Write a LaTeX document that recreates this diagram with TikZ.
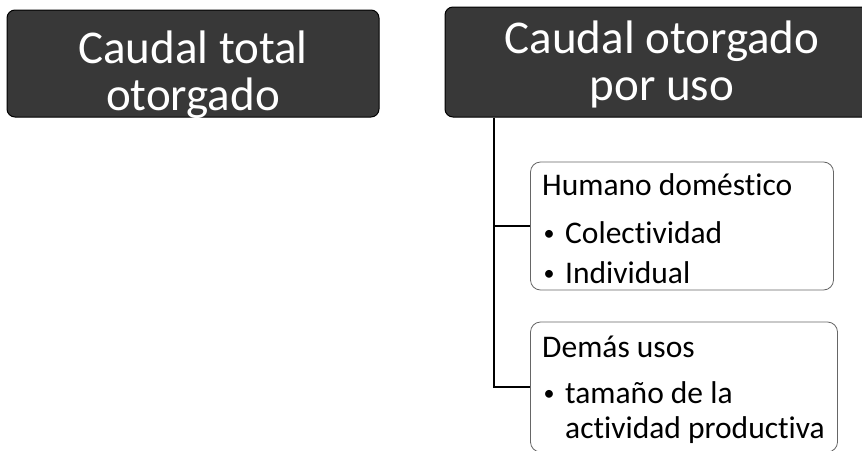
\documentclass[tikz,border=0pt]{standalone}
\usepackage{fontspec}
\setmainfont{Carlito}[Ligatures=NoCommon]
\begin{document}
\begin{tikzpicture}[x=1pt,y=-1pt,
  titlebox/.style={draw=black, fill=black!78, rounded corners=8pt, line width=1pt, inner sep=0pt},
  titletext/.style={text=white, font=\fontsize{47}{50}\selectfont, anchor=base, inner sep=0pt},
  itembox/.style={draw=black!60, fill=white, rounded corners=10pt, line width=0.8pt, inner sep=0pt},
  itemtext/.style={font=\fontsize{31.5}{36}\selectfont, anchor=base west, inner sep=0pt},
  bullettext/.style={font=\fontsize{22}{26}\selectfont, anchor=base, inner sep=0pt},
  conn/.style={draw=black, line width=1.1pt}
]
\useasboundingbox (0,0) rectangle (862,450);
% title boxes
\node[titlebox, minimum width=372, minimum height=107] (tot) at (193,63.5) {};
\node[titlebox, minimum width=430, minimum height=110] (uso) at (660,62) {};
\node[titletext] (tot1) at (193,63) {Caudal total};
\node[titletext] (tot2) at (193,110) {otorgado};
\node[titletext] (uso1) at (662,53) {Caudal otorgado};
\node[titletext] (uso2) at (662,100) {por uso};
% item boxes
\node[itembox, minimum width=303, minimum height=128] (hum) at (682,226) {};
\node[itembox, minimum width=307, minimum height=130] (dem) at (684,387) {};
\node[itemtext] (hum0) at (542,195) {Humano doméstico};
\node[bullettext] (hb1) at (549,240) {•};
\node[itemtext] (hum1) at (565,243) {Colectividad};
\node[bullettext] (hb2) at (549,280) {•};
\node[itemtext] (hum2) at (565,283) {Individual};
\node[itemtext] (dem0) at (542,357) {Demás usos};
\node[bullettext] (db1) at (549,400) {•};
\node[itemtext] (dem1) at (565,403) {tamaño de la};
\node[itemtext] (dem2) at (565,438) {actividad productiva};
% connectors
\coordinate (spine) at (494,0);
\draw[conn] (uso.south -| spine) |- (hum.west);
\draw[conn] (uso.south -| spine) |- (dem.west);
\end{tikzpicture}
\end{document}
